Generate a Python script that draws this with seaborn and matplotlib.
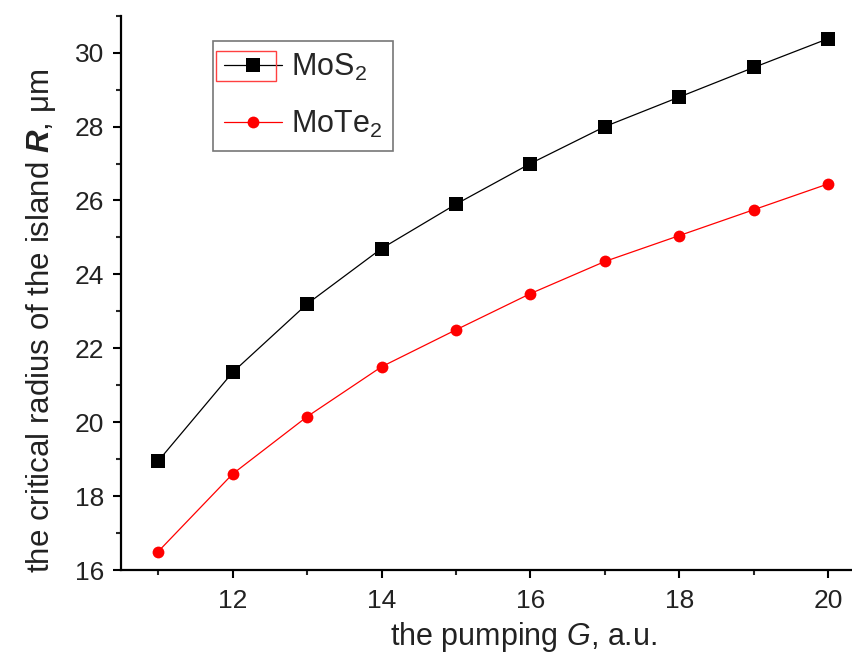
import numpy as np
import pandas as pd
import matplotlib
matplotlib.use("Agg")
import matplotlib.pyplot as plt
import seaborn as sns
from matplotlib.ticker import MultipleLocator
from matplotlib.patches import Rectangle

G = [11, 12, 13, 14, 15, 16, 17, 18, 19, 20]
mos2 = [18.95, 21.35, 23.2, 24.7, 25.9, 27.0, 28.0, 28.8, 29.6, 30.38]
mote2 = [16.5, 18.6, 20.15, 21.5, 22.5, 23.48, 24.35, 25.05, 25.75, 26.45]
x_ticks = [12, 14, 16, 18, 20]
y_ticks = [16, 18, 20, 22, 24, 26, 28, 30]

sns.set_theme(style="white")
plt.rcParams['font.family'] = ['Liberation Sans', 'DejaVu Sans']
plt.rcParams['mathtext.fontset'] = 'custom'
plt.rcParams['mathtext.rm'] = 'Liberation Sans'
plt.rcParams['mathtext.it'] = 'Liberation Sans:italic'
plt.rcParams['mathtext.bf'] = 'Liberation Sans:bold'
plt.rcParams['mathtext.bfit'] = 'Liberation Sans:italic:bold'

fig = plt.figure(figsize=(8.52, 6.55), dpi=100)
ax = fig.add_axes([121/852, 85/655, (865.5-121)/852, (570-15.7)/655])

df1 = pd.DataFrame({"G": G, "R": mos2})
df2 = pd.DataFrame({"G": G, "R": mote2})
sns.lineplot(data=df1, x="G", y="R", ax=ax, color="black", lw=0.9,
             marker="s", markersize=9.5, markeredgewidth=0, label=r"MoS$_2$")
sns.lineplot(data=df2, x="G", y="R", ax=ax, color="#ff0000", lw=0.9,
             marker="o", markersize=8.5, markeredgewidth=0, label=r"MoTe$_2$")

ax.set_xlim(10.5, 20.5)
ax.set_ylim(16, 31)
ax.set_xticks(x_ticks)
ax.set_yticks(y_ticks)
ax.xaxis.set_minor_locator(MultipleLocator(1))
ax.yaxis.set_minor_locator(MultipleLocator(1))
for s in ["top", "right"]:
    ax.spines[s].set_visible(False)
for s in ["left", "bottom"]:
    ax.spines[s].set_linewidth(1.6)
    ax.spines[s].set_color("black")
ax.tick_params(which="major", direction="out", length=6, width=1.5, labelsize=19,
               colors="black", left=True, bottom=True)
ax.tick_params(which="minor", direction="out", length=3.6, width=1.5, left=True, bottom=True)
ax.tick_params(axis="y", which="major", pad=6)
ax.tick_params(axis="x", which="major", pad=8)
for lab in ax.get_xticklabels() + ax.get_yticklabels():
    lab.set_color("#222222")

ax.set_xlabel(r"the pumping $\mathit{G}$, a.u.", fontsize=22, color="#222222", labelpad=5)
ax.set_ylabel(r"the critical radius of the island $\mathbfit{R}$, μm", fontsize=22.5,
              color="#222222", labelpad=12)
ax.xaxis.label.set_x(0.541)
ax.yaxis.label.set_y(0.449)

leg = ax.legend(loc="upper left", bbox_to_anchor=(0.1236, 0.954), frameon=True,
                fancybox=False, fontsize=22, handlelength=1.9, borderpad=0.35,
                labelspacing=0.85, handletextpad=0.3, borderaxespad=0)
leg.get_frame().set_edgecolor("#555555")
leg.get_frame().set_linewidth(1.2)

fig.canvas.draw()
# selection box around the first legend handle (as in the reference)
fb = leg.get_frame().get_window_extent(fig.canvas.get_renderer())
r = Rectangle(((fb.x0 + 3) / 852, (fb.y1 - 40) / 655), 60 / 852, 30 / 655,
              transform=fig.transFigure, fill=False, edgecolor="#ff4040", lw=1.0)
fig.add_artist(r)

fig.savefig("out.png", dpi=100)
